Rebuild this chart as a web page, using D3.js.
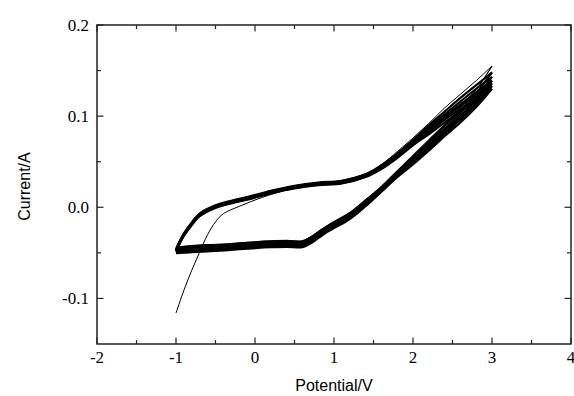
<!DOCTYPE html>
<html>
<head>
<meta charset="utf-8">
<script src="https://cdn.jsdelivr.net/npm/d3@7"></script>
<style>
  body { margin: 0; background: #fff; }
  svg { display: block; }
</style>
</head>
<body>
<div id="chart"></div>
<script>
// tick values
const xMajor = [-2, -1, 0, 1, 2, 3, 4];
const xMinor = [-1.5, -0.5, 0.5, 1.5, 2.5, 3.5];
const yMajor = [-0.1, 0.0, 0.1, 0.2];
const yMinor = [-0.05, 0.05, 0.15];
const xLabels = ["-2", "-1", "0", "1", "2", "3", "4"];
const yLabels = ["-0.1", "0.0", "0.1", "0.2"];

// first cycle
const firstAnodicE = [-1.0, -0.9, -0.8, -0.7, -0.6, -0.5, -0.4, -0.2, 0.0, 0.2, 0.4, 0.6, 0.8, 1.1, 1.4, 1.6, 1.8, 2.0, 2.2, 2.4, 2.6, 2.8, 3.0];
const firstAnodicI = [-0.116, -0.091, -0.069, -0.049, -0.030, -0.016, -0.007, 0.001, 0.008, 0.014, 0.019, 0.023, 0.0265, 0.0295, 0.037, 0.047, 0.061, 0.076, 0.092, 0.109, 0.124, 0.139, 0.155];

// potential grids for the repeated cycles
const anodicE = [-1.0, -0.95, -0.9, -0.8, -0.7, -0.5, -0.3, -0.1, 0.2, 0.5, 0.8, 1.1, 1.4, 1.6, 1.8, 2.0, 2.2, 2.4, 2.6, 2.8, 3.0];
const cathodicE = [3.0, 2.8, 2.6, 2.4, 2.2, 2.0, 1.8, 1.6, 1.4, 1.2, 1.0, 0.9, 0.8, 0.7, 0.6, 0.4, 0.2, 0.0, -0.3, -0.6, -0.8, -0.9, -1.0];

const firstCathodicI = [0.155, 0.129, 0.109, 0.091, 0.074, 0.057, 0.040, 0.023, 0.008, -0.006, -0.016, -0.021, -0.027, -0.033, -0.037, -0.0365, -0.037, -0.038, -0.040, -0.041, -0.042, -0.043, -0.044];

// cycles 2..7 (the dense band)
const cycle2Anodic = [-0.0458, -0.0365, -0.0285, -0.0165, -0.0068, 0.0022, 0.0072, 0.0112, 0.0182, 0.0237, 0.0272, 0.0292, 0.0362, 0.046, 0.059, 0.074, 0.090, 0.105, 0.120, 0.134, 0.148];
const cycle3Anodic = [-0.0464, -0.0371, -0.0291, -0.0171, -0.0074, 0.0016, 0.0066, 0.0106, 0.0176, 0.0231, 0.0266, 0.0286, 0.0356, 0.045, 0.058, 0.072, 0.088, 0.102, 0.116, 0.130, 0.143];
const cycle4Anodic = [-0.0470, -0.0377, -0.0297, -0.0177, -0.0080, 0.0010, 0.0060, 0.0100, 0.0170, 0.0225, 0.0260, 0.0280, 0.0350, 0.044, 0.057, 0.071, 0.086, 0.100, 0.113, 0.126, 0.139];
const cycle5Anodic = [-0.0476, -0.0383, -0.0303, -0.0183, -0.0086, 0.0004, 0.0054, 0.0094, 0.0164, 0.0219, 0.0254, 0.0274, 0.0344, 0.043, 0.056, 0.070, 0.084, 0.098, 0.111, 0.123, 0.136];
const cycle6Anodic = [-0.0482, -0.0389, -0.0309, -0.0189, -0.0092, -0.0002, 0.0048, 0.0088, 0.0158, 0.0213, 0.0248, 0.0268, 0.0338, 0.043, 0.055, 0.069, 0.082, 0.096, 0.108, 0.120, 0.133];
const cycle7Anodic = [-0.0488, -0.0395, -0.0315, -0.0195, -0.0098, -0.0008, 0.0042, 0.0082, 0.0152, 0.0207, 0.0242, 0.0262, 0.0332, 0.042, 0.054, 0.068, 0.080, 0.093, 0.105, 0.117, 0.130];

const cycle2Cathodic = [0.148, 0.125, 0.106, 0.089, 0.072, 0.055, 0.039, 0.022, 0.0076, -0.0064, -0.0164, -0.0214, -0.0274, -0.0334, -0.0374, -0.0369, -0.0374, -0.0384, -0.0404, -0.0419, -0.0429, -0.0434, -0.0444];
const cycle3Cathodic = [0.143, 0.121, 0.103, 0.086, 0.070, 0.053, 0.037, 0.021, 0.0063, -0.0077, -0.0177, -0.0227, -0.0287, -0.0347, -0.0387, -0.0382, -0.0387, -0.0397, -0.0417, -0.0432, -0.0442, -0.0447, -0.0457];
const cycle4Cathodic = [0.139, 0.118, 0.100, 0.084, 0.068, 0.052, 0.036, 0.020, 0.0050, -0.0090, -0.0190, -0.0240, -0.0300, -0.0360, -0.0400, -0.0395, -0.0400, -0.0410, -0.0430, -0.0445, -0.0455, -0.0460, -0.0470];
const cycle5Cathodic = [0.136, 0.115, 0.098, 0.082, 0.066, 0.050, 0.035, 0.019, 0.0037, -0.0103, -0.0203, -0.0253, -0.0313, -0.0373, -0.0413, -0.0408, -0.0413, -0.0423, -0.0443, -0.0458, -0.0468, -0.0473, -0.0483];
const cycle6Cathodic = [0.133, 0.113, 0.096, 0.080, 0.064, 0.049, 0.034, 0.018, 0.0024, -0.0116, -0.0216, -0.0266, -0.0326, -0.0386, -0.0426, -0.0421, -0.0426, -0.0436, -0.0456, -0.0471, -0.0481, -0.0486, -0.0496];
const cycle7Cathodic = [0.130, 0.110, 0.093, 0.078, 0.062, 0.047, 0.033, 0.017, 0.0011, -0.0129, -0.0229, -0.0279, -0.0339, -0.0399, -0.0439, -0.0434, -0.0439, -0.0449, -0.0469, -0.0484, -0.0494, -0.0499, -0.0505];

const bandAnodic = [cycle2Anodic, cycle3Anodic, cycle4Anodic, cycle5Anodic, cycle6Anodic, cycle7Anodic];
const bandCathodic = [cycle2Cathodic, cycle3Cathodic, cycle4Cathodic, cycle5Cathodic, cycle6Cathodic, cycle7Cathodic];

const W = 574, H = 396;
const margin = { top: 25, right: 3, bottom: 52, left: 97 };
const width = W - margin.left - margin.right;
const height = H - margin.top - margin.bottom;

const serif = "'Times New Roman', 'Liberation Serif', 'DejaVu Serif', serif";
const sans = "Arial, 'Liberation Sans', sans-serif";

const svg = d3.select("#chart").append("svg")
  .attr("width", W)
  .attr("height", H);

const g = svg.append("g")
  .attr("transform", "translate(" + margin.left + "," + margin.top + ")");

const x = d3.scaleLinear().domain([-2, 4]).range([0, width]);
const y = d3.scaleLinear().domain([-0.15, 0.2]).range([height, 0]);

const line = d3.line()
  .x(d => x(d[0]))
  .y(d => y(d[1]))
  .curve(d3.curveCatmullRom.alpha(0.5));

const zip = (es, is) => es.map((e, i) => [e, is[i]]);

// band cycles
bandAnodic.forEach((arr, k) => {
  g.append("path")
    .datum(zip(anodicE, arr))
    .attr("d", line)
    .attr("fill", "none")
    .attr("stroke", "#000")
    .attr("stroke-width", 2.1);
  g.append("path")
    .datum(zip(cathodicE, bandCathodic[k]))
    .attr("d", line)
    .attr("fill", "none")
    .attr("stroke", "#000")
    .attr("stroke-width", 2.1);
});

// first cycle, thin
g.append("path")
  .datum(zip(firstAnodicE, firstAnodicI))
  .attr("d", line)
  .attr("fill", "none")
  .attr("stroke", "#000")
  .attr("stroke-width", 1);
g.append("path")
  .datum(zip(cathodicE, firstCathodicI))
  .attr("d", line)
  .attr("fill", "none")
  .attr("stroke", "#000")
  .attr("stroke-width", 1.2);

// frame
g.append("rect")
  .attr("width", width)
  .attr("height", height)
  .attr("fill", "none")
  .attr("stroke", "#222")
  .attr("stroke-width", 1.5);

const majorLen = 6.5, minorLen = 4;
const tickStroke = (sel) => sel.attr("stroke", "#222").attr("stroke-width", 1.2);

// x ticks, bottom and top, pointing inward
[[xMajor, majorLen], [xMinor, minorLen]].forEach(([vals, len]) => {
  g.selectAll(null).data(vals).enter().append("line")
    .attr("x1", d => x(d)).attr("x2", d => x(d))
    .attr("y1", height).attr("y2", height - len)
    .call(tickStroke);
  g.selectAll(null).data(vals).enter().append("line")
    .attr("x1", d => x(d)).attr("x2", d => x(d))
    .attr("y1", 0).attr("y2", len)
    .call(tickStroke);
});

// y ticks, left and right
[[yMajor, majorLen], [yMinor, minorLen]].forEach(([vals, len]) => {
  g.selectAll(null).data(vals).enter().append("line")
    .attr("y1", d => y(d)).attr("y2", d => y(d))
    .attr("x1", 0).attr("x2", len)
    .call(tickStroke);
  g.selectAll(null).data(vals).enter().append("line")
    .attr("y1", d => y(d)).attr("y2", d => y(d))
    .attr("x1", width).attr("x2", width - len)
    .call(tickStroke);
});

// tick labels
g.selectAll(null).data(xMajor).enter().append("text")
  .style("font-family", serif)
  .style("font-size", "17px")
  .attr("fill", "#000")
  .attr("x", d => x(d))
  .attr("y", height + 19)
  .attr("text-anchor", "middle")
  .text((d, i) => xLabels[i]);

g.selectAll(null).data(yMajor).enter().append("text")
  .style("font-family", serif)
  .style("font-size", "17px")
  .attr("fill", "#000")
  .attr("x", -8)
  .attr("y", d => y(d))
  .attr("dy", "0.33em")
  .attr("text-anchor", "end")
  .text((d, i) => yLabels[i]);

// axis titles
svg.append("text")
  .style("font-family", sans)
  .style("font-size", "16px")
  .attr("fill", "#000")
  .attr("x", margin.left + width / 2)
  .attr("y", H - 5)
  .attr("text-anchor", "middle")
  .text("Potential/V");

svg.append("text")
  .style("font-family", sans)
  .style("font-size", "16px")
  .attr("fill", "#000")
  .attr("transform", "translate(30," + (margin.top + height / 2 + 2) + ") rotate(-90)")
  .attr("text-anchor", "middle")
  .text("Current/A");
</script>
</body>
</html>
